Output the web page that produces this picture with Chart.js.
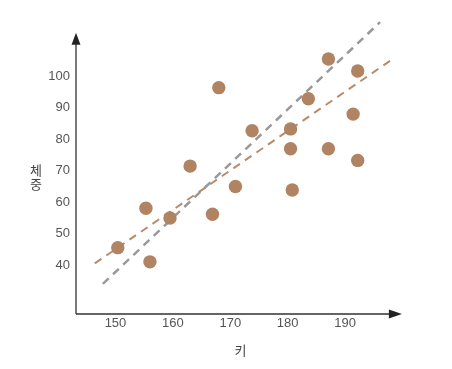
<!DOCTYPE html>
<html lang="ko">
<head>
    <meta charset="UTF-8">
    <title>키와 체중</title>
    <style>
        body {
            margin: 0;
            background-color: #ffffff;
        }
        #scatter {
            display: block;
        }
    </style>
    <script src="https://cdn.jsdelivr.net/npm/chart.js"></script>
</head>
<body>
    <canvas id="scatter" width="452" height="369"></canvas>

    <script>
        // 키 (x) / 체중 (y)
        const heights = [150.4, 155.3, 156.0, 159.5, 163.0, 166.9, 168.0, 170.9, 173.8,
                         180.5, 180.5, 180.8, 183.6, 187.1, 187.1, 191.4, 192.2, 192.2];
        const weights = [45.5, 58.0, 41.0, 54.9, 71.4, 56.1, 96.3, 64.9, 82.6,
                         83.2, 76.9, 63.8, 92.8, 105.4, 76.9, 87.9, 101.6, 73.2];

        // two dashed fit lines (end points)
        const grayLineX = [147.8, 196.1];
        const grayLineY = [34.0, 117.1];
        const brownLineX = [146.4, 198.3];
        const brownLineY = [40.5, 105.4];

        const xTicks = [150, 160, 170, 180, 190];
        const yTicks = [40, 50, 60, 70, 80, 90, 100];

        const xLabel = '키';
        const yLabel = ['체', '중'];

        const toPoints = (xs, ys) => xs.map((x, i) => ({ x: x, y: ys[i] }));

        // axis lines with arrow heads + stacked y title
        const axisArrows = {
            id: 'axisArrows',
            beforeDatasetsDraw(chart) {
                const ctx = chart.ctx;
                const xs = chart.scales.x;
                const ys = chart.scales.y;
                const ox = xs.getPixelForValue(xs.min);
                const oy = ys.getPixelForValue(ys.min);
                const xEnd = xs.getPixelForValue(199.9);
                const yEnd = ys.getPixelForValue(113.7);

                ctx.save();
                ctx.strokeStyle = '#333';
                ctx.fillStyle = '#222';
                ctx.lineWidth = 1.3;
                ctx.beginPath();
                ctx.moveTo(ox, oy);
                ctx.lineTo(xEnd - 8, oy);
                ctx.moveTo(ox, oy);
                ctx.lineTo(ox, yEnd + 8);
                ctx.stroke();

                // right arrow
                ctx.beginPath();
                ctx.moveTo(xEnd, oy);
                ctx.lineTo(xEnd - 13, oy - 4.5);
                ctx.lineTo(xEnd - 13, oy + 4.5);
                ctx.closePath();
                ctx.fill();

                // up arrow
                ctx.beginPath();
                ctx.moveTo(ox, yEnd);
                ctx.lineTo(ox - 4.5, yEnd + 12);
                ctx.lineTo(ox + 4.5, yEnd + 12);
                ctx.closePath();
                ctx.fill();

                // y title, one character per line
                ctx.fillStyle = '#444';
                ctx.font = '13px "Noto Sans CJK KR", sans-serif';
                ctx.textAlign = 'center';
                ctx.textBaseline = 'middle';
                ctx.fillText(yLabel[0], 36, 170);
                ctx.fillText(yLabel[1], 36, 184);
                ctx.restore();
            }
        };

        const ctx = document.getElementById('scatter').getContext('2d');
        new Chart(ctx, {
            type: 'scatter',
            data: {
                datasets: [{
                    label: 'data',
                    data: toPoints(heights, weights),
                    backgroundColor: '#b08363',
                    borderWidth: 0,
                    pointRadius: 6.7
                }, {
                    label: 'brown fit',
                    data: toPoints(brownLineX, brownLineY),
                    showLine: true,
                    borderColor: '#b68c6c',
                    borderWidth: 2,
                    borderDash: [8, 6],
                    pointRadius: 0
                }, {
                    label: 'gray fit',
                    data: toPoints(grayLineX, grayLineY),
                    showLine: true,
                    borderColor: '#999999',
                    borderWidth: 2.5,
                    borderDash: [8, 6],
                    pointRadius: 0
                }]
            },
            options: {
                responsive: false,
                animation: false,
                layout: {
                    padding: { left: 0, right: 47, top: 15, bottom: 0 }
                },
                scales: {
                    x: {
                        type: 'linear',
                        min: 143.12,
                        max: 200.44,
                        grid: { display: false, drawTicks: false },
                        border: { display: false },
                        afterBuildTicks: s => { s.ticks = xTicks.map(v => ({ value: v })); },
                        afterFit: s => { s.height = 55; },
                        ticks: {
                            color: '#555',
                            padding: 2,
                            maxRotation: 0,
                            font: { family: '"Liberation Sans", Arial, sans-serif', size: 13 }
                        },
                        title: {
                            display: true,
                            text: xLabel,
                            color: '#444',
                            padding: { top: 0, bottom: 11 },
                            font: { family: '"Noto Sans CJK KR", sans-serif', size: 13 }
                        }
                    },
                    y: {
                        min: 24.44,
                        max: 119.37,
                        grid: { display: false, drawTicks: false },
                        border: { display: false },
                        afterBuildTicks: s => { s.ticks = yTicks.map(v => ({ value: v })); },
                        afterFit: s => { s.width = 76; },
                        ticks: {
                            color: '#555',
                            padding: 6,
                            font: { family: '"Liberation Sans", Arial, sans-serif', size: 13 }
                        }
                    }
                },
                plugins: {
                    legend: { display: false },
                    tooltip: { enabled: false }
                }
            },
            plugins: [axisArrows]
        });
    </script>
</body>
</html>
